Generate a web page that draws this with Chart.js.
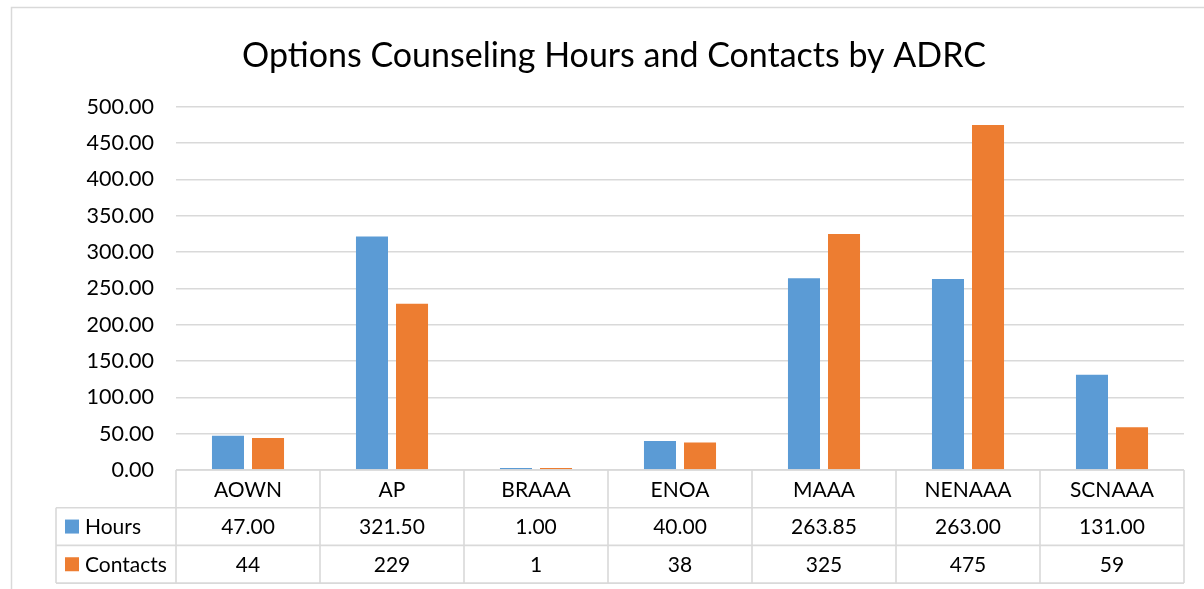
<!DOCTYPE html>
<html>
<head>
<meta charset="utf-8">
<script src="https://cdn.jsdelivr.net/npm/chart.js@4.4.1/dist/chart.umd.min.js"></script>
<style>
  html, body { margin: 0; padding: 0; background: #fff; }
  #wrap { width: 1204px; height: 589px; position: relative; }
</style>
</head>
<body>
<div id="wrap"><canvas id="chart" width="1204" height="589"></canvas></div>
<script>
// data
const categories = ['AOWN', 'AP', 'BRAAA', 'ENOA', 'MAAA', 'NENAAA', 'SCNAAA'];
const hours = [47.00, 321.50, 1.00, 40.00, 263.85, 263.00, 131.00];
const contacts = [44, 229, 1, 38, 325, 475, 59];
const seriesNames = ['Hours', 'Contacts'];
const yTicks = [0, 50, 100, 150, 200, 250, 300, 350, 400, 450, 500];

const BLUE = '#5b9bd5';
const ORANGE = '#ed7d31';
const LINE = '#d9d9d9';
const FONT = 'Lato';

// table under the plot (category row + data rows)
const dataTable = {
  id: 'dataTable',
  afterDraw(chart) {
    const ctx = chart.ctx;
    const x = chart.scales.x;
    const area = chart.chartArea;
    const step = x.getPixelForValue(1) - x.getPixelForValue(0);
    const rowH = 37.7;
    const legLeft = 56;
    const top = area.bottom;
    const rows = [top, top + rowH, top + rowH * 2, top + rowH * 3];

    ctx.save();
    // outer chart border
    ctx.strokeStyle = LINE;
    ctx.lineWidth = 1.5;
    ctx.strokeRect(11.5, 7.5, 1400, 700);

    ctx.lineWidth = 1.6;
    ctx.beginPath();
    ctx.moveTo(area.left, rows[0]); ctx.lineTo(area.right, rows[0]);
    for (let r = 1; r < 4; r++) {
      ctx.moveTo(legLeft, rows[r]); ctx.lineTo(area.right, rows[r]);
    }
    // column dividers
    for (let i = 0; i <= categories.length; i++) {
      const cx = x.getPixelForValue(i) - step / 2;
      ctx.moveTo(cx, rows[0]); ctx.lineTo(cx, rows[3]);
    }
    ctx.moveTo(legLeft, rows[1]); ctx.lineTo(legLeft, rows[3]);
    ctx.stroke();

    // texts
    ctx.fillStyle = '#000';
    ctx.font = '21px ' + FONT;
    ctx.textAlign = 'center';
    ctx.textBaseline = 'middle';
    categories.forEach((c, i) => {
      const cx = x.getPixelForValue(i);
      ctx.fillText(c, cx, (rows[0] + rows[1]) / 2 + 1);
      ctx.fillText(hours[i].toFixed(2), cx, (rows[1] + rows[2]) / 2 + 1);
      ctx.fillText(String(contacts[i]), cx, (rows[2] + rows[3]) / 2 + 1);
    });

    // legend keys
    const colors = [BLUE, ORANGE];
    ctx.textAlign = 'left';
    seriesNames.forEach((n, r) => {
      const my = (rows[r + 1] + rows[r + 2]) / 2;
      ctx.fillStyle = colors[r];
      ctx.fillRect(65, my - 7, 14, 14);
      ctx.fillStyle = '#000';
      ctx.fillText(n, 85, my + 1);
    });
    ctx.restore();
  }
};

new Chart(document.getElementById('chart'), {
  type: 'bar',
  data: {
    labels: categories,
    datasets: [
      { label: seriesNames[0], data: hours, backgroundColor: BLUE },
      { label: seriesNames[1], data: contacts, backgroundColor: ORANGE }
    ]
  },
  options: {
    responsive: false,
    animation: false,
    layout: { padding: { left: 44, right: 20, top: 7, bottom: 119 } },
    datasets: { bar: { categoryPercentage: 0.556, barPercentage: 0.8, minBarLength: 2 } },
    plugins: {
      legend: { display: false },
      tooltip: { enabled: false },
      title: {
        display: true,
        text: 'Options Counseling Hours and Contacts by ADRC',
        color: '#000',
        font: { family: FONT, size: 34, weight: 'normal' },
        padding: { top: 29, bottom: 30 }
      }
    },
    scales: {
      x: { display: false },
      y: {
        min: 0,
        max: 500,
        afterBuildTicks(scale) { scale.ticks = yTicks.map(v => ({ value: v })); },
        afterFit(scale) { scale.width = 132; },
        border: { display: false },
        grid: { color: LINE, lineWidth: 1.4, drawTicks: false },
        ticks: {
          color: '#000',
          padding: 22,
          font: { family: FONT, size: 21.5 },
          callback: v => Number(v).toFixed(2)
        }
      }
    }
  },
  plugins: [dataTable]
});
</script>
</body>
</html>
